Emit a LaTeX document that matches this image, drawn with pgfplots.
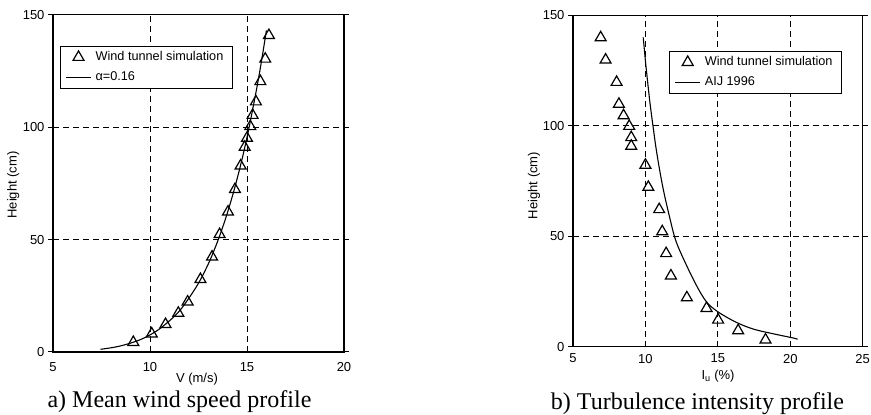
\documentclass[border=0pt]{standalone}
\usepackage{fontspec}
\setmainfont{Liberation Sans}
\newfontfamily\capfont{Liberation Serif}
\usepackage{pgfplots}
\pgfplotsset{compat=1.18}
\pgfplotsset{
  myax/.style={
    scale only axis,
    axis line style={line width=1.1pt},
    grid=major,
    major grid style={black, line width=0.9pt, dash pattern=on 6pt off 4pt},
    tick align=outside,
    major tick length=5pt,
    xtick style={draw=none},
    ytick style={black, line width=1pt},
    tick label style={font=\fontsize{13}{15}\selectfont},
    /pgf/number format/assume math mode=true,
    legend cell align=left,
    legend style={draw=black, fill=white, line width=1pt, font=\fontsize{12.7}{15}\selectfont,
      anchor=north west, inner xsep=5pt, inner ysep=1pt,
      nodes={inner xsep=4pt, inner ysep=4pt, text height=9pt, text depth=3pt}},
    legend image code/.code={\draw[mark repeat=2,mark phase=2,#1] plot coordinates {(0pt,0pt) (12.5pt,0pt) (25pt,0pt)};},
  },
  tri/.style={only marks, mark=triangle, mark size=6.3pt, mark options={line width=1.2pt, fill=none, draw=black}},
  crv/.style={black, line width=1.1pt, smooth, no marks},
}
\begin{document}
\begin{tikzpicture}
\path[use as bounding box] (0,0) rectangle (871pt,415pt);
% ---------- a) ----------
\begin{axis}[myax, at={(53pt,63pt)}, anchor=south west, width=291pt, height=337.3pt,
  xmin=5, xmax=20, ymin=0, ymax=150, xtick={5,10,15,20}, ytick={0,50,100,150},
  xticklabel style={yshift=-1.8pt},
  legend style={at={(0.024,0.908)}}]
\addplot[tri] coordinates {
(9.14,4.3) (10.09,8.1) (10.8,12.3) (11.46,17.3) (11.94,22.3) (12.6,32.3) (13.2,42.3)
(13.59,52.3) (14.02,62.3) (14.38,72.3) (14.67,82.8) (14.88,91.1) (15.0,95.1)
(15.17,100.3) (15.29,105.3) (15.46,111.3) (15.69,120.3) (15.94,130.3) (16.13,140.8)};
\addlegendentry{Wind tunnel simulation}
\addplot[crv] coordinates {
(7.45,1.2) (8.08,2) (8.62,3) (9.36,5) (9.87,7) (10.45,10) (11.15,15) (11.68,20)
(12.46,30) (13.05,40) (13.52,50) (13.92,60) (14.27,70) (14.58,80) (14.86,90)
(15.11,100) (15.34,110) (15.56,120) (15.76,130) (16.0,143)};
\addlegendentry{α=0.16}
\end{axis}
% ---------- b) ----------
\begin{axis}[myax, at={(573pt,68.3pt)}, anchor=south west, width=289.7pt, height=331.4pt,
  xmin=5, xmax=25, ymin=0, ymax=150, xtick={5,10,15,20,25}, ytick={0,50,100,150},
  xticklabel style={yshift=1.2pt},
  legend style={at={(0.332,0.893)}}]
\addplot[tri] coordinates {
(6.91,139.9) (7.25,129.8) (8.01,119.7) (8.17,109.8) (8.49,104.6) (8.88,99.8)
(9.02,94.7) (9.02,90.8) (10.0,82.2) (10.2,72.2) (10.95,62.1) (11.16,52.1)
(11.43,42.2) (11.76,32.1) (12.86,22.2) (14.22,17.4) (15.02,12.1) (16.4,7.3) (18.29,3.1)};
\addlegendentry{Wind tunnel simulation}
\addplot[crv] coordinates {
(9.85,140) (9.99,130) (10.15,120) (10.32,110) (10.52,100) (10.73,90) (10.98,80)
(11.27,70) (11.62,60) (12.0,50) (12.35,43.8) (13.1,33.2) (13.75,25) (14.3,19.6)
(15.0,15.8) (15.95,12.1) (16.8,9.5) (17.67,7.56) (19.0,5.6) (20.3,3.8) (20.5,3.3)};
\addlegendentry{AIJ 1996}
\end{axis}
% ---------- labels ----------
\node[font=\fontsize{13}{15}\selectfont] at (197pt,36pt) {V (m/s)};
\node[font=\fontsize{13}{15}\selectfont] at (718pt,39pt) {I\textsubscript{u} (\%)};
\node[font=\fontsize{13}{15}\selectfont, rotate=90] at (13.3pt,230pt) {Height (cm)};
\node[font=\fontsize{13}{15}\selectfont, rotate=90] at (534pt,229.5pt) {Height (cm)};
\node[font=\capfont\fontsize{24}{28}\selectfont, anchor=base, inner sep=0pt] at (179.5pt,7pt) {a) Mean wind speed profile};
\node[font=\capfont\fontsize{24}{28}\selectfont, anchor=base, inner sep=0pt] at (697.5pt,5.6pt) {b) Turbulence intensity profile};
\end{tikzpicture}
\end{document}
